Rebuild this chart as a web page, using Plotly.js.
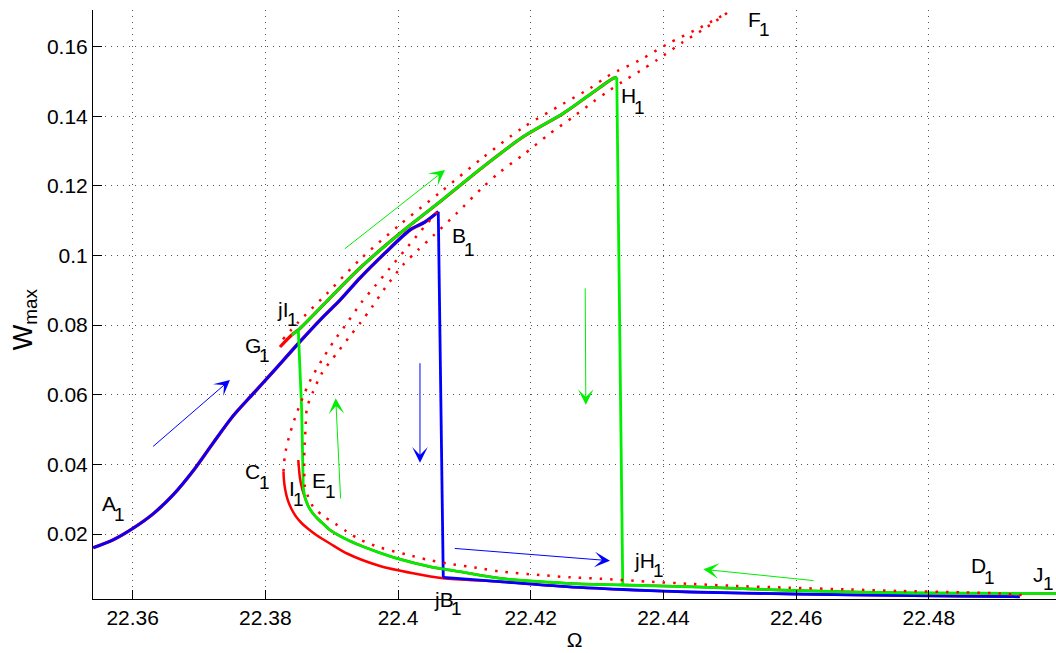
<!DOCTYPE html>
<html>
<head>
<meta charset="utf-8">
<script src="https://cdn.plot.ly/plotly-3.0.1.min.js"></script>
<style>html,body{margin:0;padding:0;background:#fff;}#chart{width:1056px;height:653px;}</style>
</head>
<body>
<div id="chart"></div>
<script>
// ---- tick labels ----
const xTickVals = [22.36, 22.38, 22.40, 22.42, 22.44, 22.46, 22.48];
const xTickText = ['22.36', '22.38', '22.4', '22.42', '22.44', '22.46', '22.48'];
const yTickVals = [0.02, 0.04, 0.06, 0.08, 0.10, 0.12, 0.14, 0.16];
const yTickText = ['0.02', '0.04', '0.06', '0.08', '0.1', '0.12', '0.14', '0.16'];

// ---- blue: frequency sweep up A1 -> B1, jump to jB1, then on to D1 ----
const blueUpX = [22.35406, 22.35708, 22.36009, 22.3631, 22.36612, 22.36913, 22.37215, 22.37516, 22.37818, 22.38119, 22.38496, 22.38873, 22.39125, 22.39426, 22.39803, 22.40179, 22.40405, 22.40606];
const blueUpY = [0.01606, 0.01836, 0.0217, 0.02583, 0.03129, 0.03818, 0.04623, 0.05398, 0.06036, 0.06668, 0.07473, 0.08243, 0.0872, 0.09354, 0.1007, 0.10733, 0.10963, 0.11259];
const blueLowX = [22.40681, 22.41536, 22.4254, 22.4354, 22.4440, 22.4595, 22.4776, 22.4927, 22.4937];
const blueLowY = [0.00756, 0.0063, 0.00486, 0.00391, 0.00334, 0.00276, 0.00228, 0.00199, 0.00196];

// ---- green: sweep J1 -> I1, jump to jI1 ----
const greenLowX = [22.49916, 22.4776, 22.45952, 22.4455, 22.4339, 22.42541, 22.41536, 22.40934, 22.40481, 22.3998, 22.39727, 22.39476, 22.3929, 22.39124, 22.38974, 22.38883, 22.38793, 22.38717, 22.38657, 22.38615, 22.38586, 22.38571];
const greenLowY = [0.0029, 0.00305, 0.00377, 0.00477, 0.00535, 0.00584, 0.00727, 0.00917, 0.01061, 0.01302, 0.0146, 0.01635, 0.01785, 0.01943, 0.02115, 0.02273, 0.02431, 0.02589, 0.02761, 0.02948, 0.03149, 0.0335];
const greenJumpX = [22.38571, 22.38547, 22.38496];
const greenJumpY = [0.0335, 0.05562, 0.0786];
// ---- green: upper branch jI1 -> H1, jump to jH1 ----
const greenUpX = [22.38396, 22.38496, 22.38929, 22.39426, 22.40029, 22.40632, 22.41285, 22.41888, 22.42491, 22.42893, 22.43245, 22.43296];
const greenUpY = [0.07717, 0.0786, 0.08693, 0.09641, 0.10638, 0.11546, 0.12552, 0.13414, 0.14086, 0.14626, 0.15091, 0.1512];
const greenDropX = [22.43296, 22.43386];
const greenDropY = [0.1512, 0.00535];

// ---- red theoretical curves: solid (stable) ----
const redC1X = [22.38273, 22.3828, 22.383, 22.38333, 22.38386, 22.38461, 22.38552, 22.38657, 22.38778, 22.38974, 22.3923, 22.39727, 22.40225, 22.40678];
const redC1Y = [0.0379, 0.03551, 0.03264, 0.03005, 0.02747, 0.02503, 0.02302, 0.02129, 0.01957, 0.01727, 0.0144, 0.01081, 0.00871, 0.00727];
const redI1X = [22.38496, 22.38521, 22.38559];
const redI1Y = [0.04126, 0.03609, 0.03264];
const redG1X = [22.3822];
const redG1Y = [0.07372];

// ---- red theoretical curves: dotted ----
const dotBX = [22.38273, 22.38295, 22.38356, 22.38446, 22.38567, 22.38687, 22.38853, 22.39034, 22.3923, 22.39441, 22.39652, 22.39878, 22.40104, 22.4033, 22.40587];
const dotBY = [0.0379, 0.04269, 0.04787, 0.05332, 0.05936, 0.06453, 0.06999, 0.07544, 0.08061, 0.08636, 0.09124, 0.09641, 0.10159, 0.10676, 0.1125];
const dotUpX = [22.38265, 22.38491, 22.38928, 22.39426, 22.40029, 22.40632, 22.4128, 22.41883, 22.42486, 22.42893, 22.43149, 22.433, 22.43647, 22.44053, 22.44551, 22.44958];
const dotUpY = [0.07596, 0.08075, 0.08908, 0.09885, 0.10891, 0.1181, 0.12815, 0.13677, 0.14357, 0.14806, 0.15141, 0.15293, 0.15618, 0.16068, 0.16546, 0.16967];
const dotFX = [22.44958, 22.44657, 22.44295, 22.43903, 22.43647, 22.43375, 22.43149, 22.42938, 22.42636, 22.4226, 22.41883, 22.41536, 22.41265, 22.40888, 22.40526, 22.403, 22.40074, 22.39803, 22.39607, 22.39441, 22.39275, 22.39079, 22.38853, 22.38717, 22.38627, 22.38604, 22.38589, 22.38586, 22.38597, 22.38647, 22.38722, 22.38873, 22.39049, 22.39225, 22.39426, 22.39727, 22.4013, 22.40431, 22.40733, 22.41235, 22.41536, 22.42139, 22.42591, 22.43043, 22.43747, 22.44445, 22.45003, 22.45907, 22.46811, 22.47565, 22.48515, 22.4907, 22.49477];
const dotFY = [0.16967, 0.16565, 0.16134, 0.15617, 0.15301, 0.14985, 0.14697, 0.1441, 0.13979, 0.13462, 0.12888, 0.1240, 0.1194, 0.11222, 0.10561, 0.10159, 0.09728, 0.09067, 0.08521, 0.0809, 0.07688, 0.072, 0.06625, 0.06079, 0.0562, 0.04988, 0.04413, 0.03896, 0.0335, 0.03063, 0.02776, 0.02517, 0.02302, 0.02072, 0.01842, 0.01612, 0.01411, 0.01267, 0.01158, 0.01015, 0.00923, 0.00822, 0.00756, 0.00716, 0.00635, 0.00564, 0.00515, 0.00457, 0.00406, 0.00363, 0.00325, 0.00291, 0.00233];

// ---- point labels ----
const labelMain = ['A', 'C', 'G', 'jI', 'I', 'E', 'B', 'H', 'F', 'jB', 'jH', 'D', 'J'];
const labelMainX = [22.35646, 22.37806, 22.37806, 22.3827, 22.38408, 22.38815, 22.40921, 22.4347, 22.45367, 22.40695, 22.43721, 22.48745, 22.49649];
const labelMainY = [0.02882, 0.0379, 0.07429, 0.08458, 0.03313, 0.03551, 0.10567, 0.14588, 0.16789, 0.00127, 0.01253, 0.01086, 0.00845];
const labelSub = ['1', '1', '1', '1', '1', '1', '1', '1', '1', '1', '1', '1', '1'];
const labelSubX = [22.35806, 22.37982, 22.37982, 22.38413, 22.38499, 22.38977, 22.41076, 22.43646, 22.4553, 22.40883, 22.43922, 22.48921, 22.498];
const labelSubY = [0.02569, 0.03479, 0.07142, 0.08148, 0.02977, 0.03221, 0.10187, 0.14252, 0.16493, -0.00134, 0.00966, 0.0075, 0.00584];

// ---- direction arrows (tail -> head) ----
const arrowColor = ['blue', 'green', 'blue', 'green', 'green', 'blue', 'green'];
const arrowTailX = [22.36286, 22.39174, 22.4033, 22.39135, 22.4282, 22.40832, 22.46283];
const arrowTailY = [0.04479, 0.10159, 0.0695, 0.02977, 0.0910, 0.01589, 0.00658];
const arrowHeadX = [22.37466, 22.40707, 22.4033, 22.3906, 22.4283, 22.43194, 22.4460];
const arrowHeadY = [0.06424, 0.12457, 0.04048, 0.0590, 0.0571, 0.01233, 0.00986];

const X_RANGE = [22.35402, 22.49916];
const Y_RANGE = [0.00133, 0.17053];
const RED = '#ff0000', BLUE = '#0000ff', GREEN = '#00ee00';
const colorMap = {blue: BLUE, green: GREEN, red: RED};
const FONT = 'Liberation Sans, Arial, Helvetica, sans-serif';
const LW = 2.8;

const solid = (x, y, c, w, smooth) => ({x, y, type: 'scatter', mode: 'lines',
  line: smooth ? {color: c, width: w, shape: 'spline', smoothing: 0.8} : {color: c, width: w}, hoverinfo: 'skip'});
const dotted = (x, y) => ({x, y, type: 'scatter', mode: 'lines',
  line: {color: RED, width: 2.5, dash: '2.5px,8px', shape: 'spline', smoothing: 0.8}, hoverinfo: 'skip'});

const nShared = greenLowX.length - 2; // green lower-branch points shared with red I1 branch
const traces = [
  // red stable branches (largely hidden beneath the measured sweeps)
  solid(blueUpX, blueUpY, RED, LW + 0.6, true),
  solid(redC1X.concat(blueLowX.slice(1)), redC1Y.concat(blueLowY.slice(1)), RED, 2.5, true),
  solid(redG1X.concat(greenUpX), redG1Y.concat(greenUpY), RED, LW + 0.4, true),
  solid(redI1X.concat(greenLowX.slice(0, nShared).reverse()), redI1Y.concat(greenLowY.slice(0, nShared).reverse()), RED, 2.5, true),
  // measured sweeps
  solid(blueUpX, blueUpY, BLUE, LW, true),
  solid([blueUpX[blueUpX.length - 1], blueLowX[0]], [blueUpY[blueUpY.length - 1], blueLowY[0]], BLUE, LW, false),
  solid(blueLowX, blueLowY, BLUE, LW, true),
  solid(greenLowX, greenLowY, GREEN, LW, true),
  solid(greenJumpX, greenJumpY, GREEN, LW, false),
  solid(greenUpX, greenUpY, GREEN, LW, true),
  solid(greenDropX, greenDropY, GREEN, LW, false),
  // red dotted
  dotted(dotBX, dotBY),
  dotted(dotUpX, dotUpY),
  dotted(dotFX, dotFY)
];

// labels are placed with paper y so that those just below the axis are still drawn
const toPaperY = v => (v - Y_RANGE[0]) / (Y_RANGE[1] - Y_RANGE[0]);
const annotations = [];
labelMain.forEach((t, i) => {
  annotations.push({x: labelMainX[i], y: toPaperY(labelMainY[i]), xref: 'x', yref: 'paper', text: t, showarrow: false,
    xanchor: 'center', yanchor: 'middle', font: {family: FONT, size: 21, color: '#000'}});
  annotations.push({x: labelSubX[i], y: toPaperY(labelSubY[i]), xref: 'x', yref: 'paper', text: labelSub[i], showarrow: false,
    xanchor: 'center', yanchor: 'middle', font: {family: FONT, size: 19, color: '#000'}});
});
arrowColor.forEach((c, i) => {
  annotations.push({x: arrowHeadX[i], y: arrowHeadY[i], ax: arrowTailX[i], ay: arrowTailY[i],
    xref: 'x', yref: 'y', axref: 'x', ayref: 'y', text: '', showarrow: true,
    arrowhead: 3, arrowsize: 2.6, arrowwidth: 1, arrowcolor: colorMap[c], standoff: 0, startstandoff: 0});
});
// y-axis label
annotations.push({xref: 'paper', yref: 'paper', x: -0.0706, y: 0.475, xanchor: 'center', yanchor: 'middle',
  text: 'W<sub>max</sub>', textangle: -90, showarrow: false, font: {family: FONT, size: 27, color: '#000'}});

const axisCommon = {
  showline: true, linecolor: '#000', linewidth: 1, mirror: false,
  ticks: 'inside', ticklen: 9, tickwidth: 1, tickcolor: '#000',
  showgrid: true, gridcolor: '#555', gridwidth: 1, griddash: '1px,5px',
  zeroline: false, tickfont: {family: FONT, size: 21, color: '#000'}
};

const layout = {
  width: 1056, height: 653,
  margin: {l: 93, r: 0, t: 10, b: 54, pad: 0},
  paper_bgcolor: '#fff', plot_bgcolor: '#fff',
  showlegend: false,
  xaxis: Object.assign({}, axisCommon, {
    range: X_RANGE, tickmode: 'array', tickvals: xTickVals, ticktext: xTickText,
    title: {text: 'Ω', font: {family: FONT, size: 21, color: '#000'}, standoff: 4}
  }),
  yaxis: Object.assign({}, axisCommon, {
    range: Y_RANGE, tickmode: 'array', tickvals: yTickVals, ticktext: yTickText
  }),
  annotations: annotations
};

Plotly.newPlot('chart', traces, layout, {displayModeBar: false, staticPlot: true});
</script>
</body>
</html>
